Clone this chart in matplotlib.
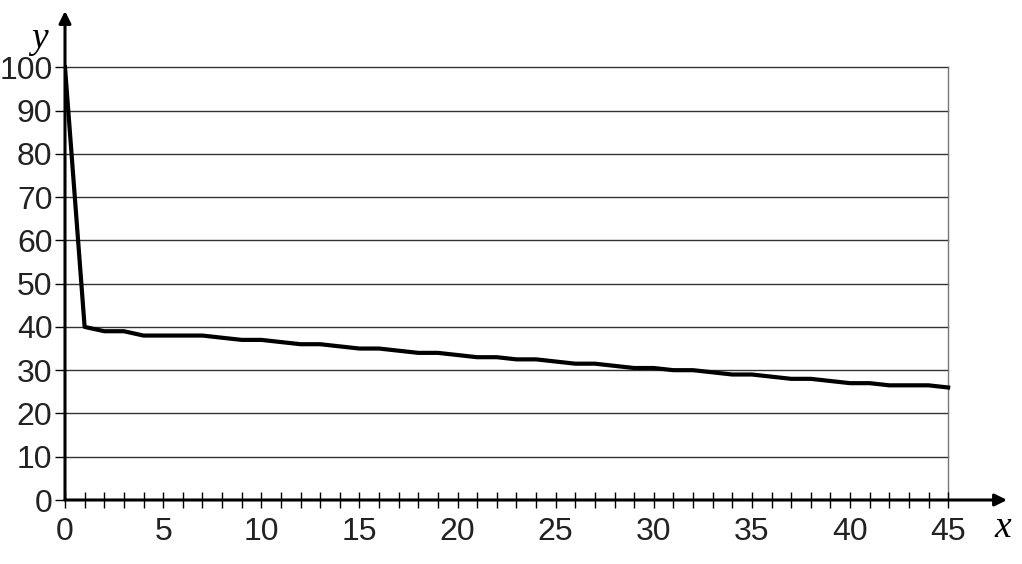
import matplotlib
matplotlib.use("Agg")
import matplotlib.pyplot as plt

x = list(range(46))
y = [100, 40, 39, 39, 38, 38, 38, 38, 37.5, 37, 37, 36.5, 36, 36, 35.5, 35,
     35, 34.5, 34, 34, 33.5, 33, 33, 32.5, 32.5, 32, 31.5, 31.5, 31, 30.5,
     30.5, 30, 30, 29.5, 29, 29, 28.5, 28, 28, 27.5, 27, 27, 26.5, 26.5, 26.5, 26]
y_ticks = list(range(0, 101, 10))
x_labels = list(range(0, 46, 5))

plt.rcParams['font.family'] = ['Liberation Sans', 'DejaVu Sans']

fig = plt.figure(figsize=(10.22, 5.64), dpi=100)
W, H = 1022, 564
# axes: x 0..48 -> px 65..1007, y 0..113 -> px 500..11
ax = fig.add_axes([65 / W, 64 / H, 942 / W, 489 / H])
ax.set_xlim(0, 48)
ax.set_ylim(0, 113)
for s in ax.spines.values():
    s.set_visible(False)

# grid lines and right border
for v in y_ticks[1:]:
    ax.plot([0, 45], [v, v], color="#333333", lw=1.0, zorder=1)
ax.plot([45, 45], [0, 100], color="#777777", lw=1.0, zorder=1)

# data line
ax.plot(x, y, color="black", lw=3.0, solid_joinstyle="round", zorder=3)

# axis arrows
ax.annotate("", xy=(48, 0), xytext=(0, 0),
            arrowprops=dict(arrowstyle="-|>", color="black", lw=2.2,
                            mutation_scale=18, shrinkA=0, shrinkB=0), zorder=4)
ax.annotate("", xy=(0, 113), xytext=(0, 0),
            arrowprops=dict(arrowstyle="-|>", color="black", lw=2.2,
                            mutation_scale=18, shrinkA=0, shrinkB=0), zorder=4)

ax.set_xticks(x)
ax.set_xticklabels([str(v) if v in x_labels else "" for v in x], fontsize=23,
                   color="#222222")
ax.tick_params(axis="x", direction="inout", length=12, width=1.0, pad=6)
ax.set_yticks(y_ticks)
ax.set_yticklabels([str(v) for v in y_ticks], fontsize=23, color="#222222")
ax.tick_params(axis="y", direction="out", length=7, width=1.0, pad=2)

ax.text(-1.3, 106.5, "y", fontsize=27, style="italic", family="Liberation Serif",
        ha="center", va="center")
ax.text(47.8, -6.5, "x", fontsize=27, style="italic", family="Liberation Serif",
        ha="center", va="center", clip_on=False)

fig.savefig("out.png", dpi=100)
